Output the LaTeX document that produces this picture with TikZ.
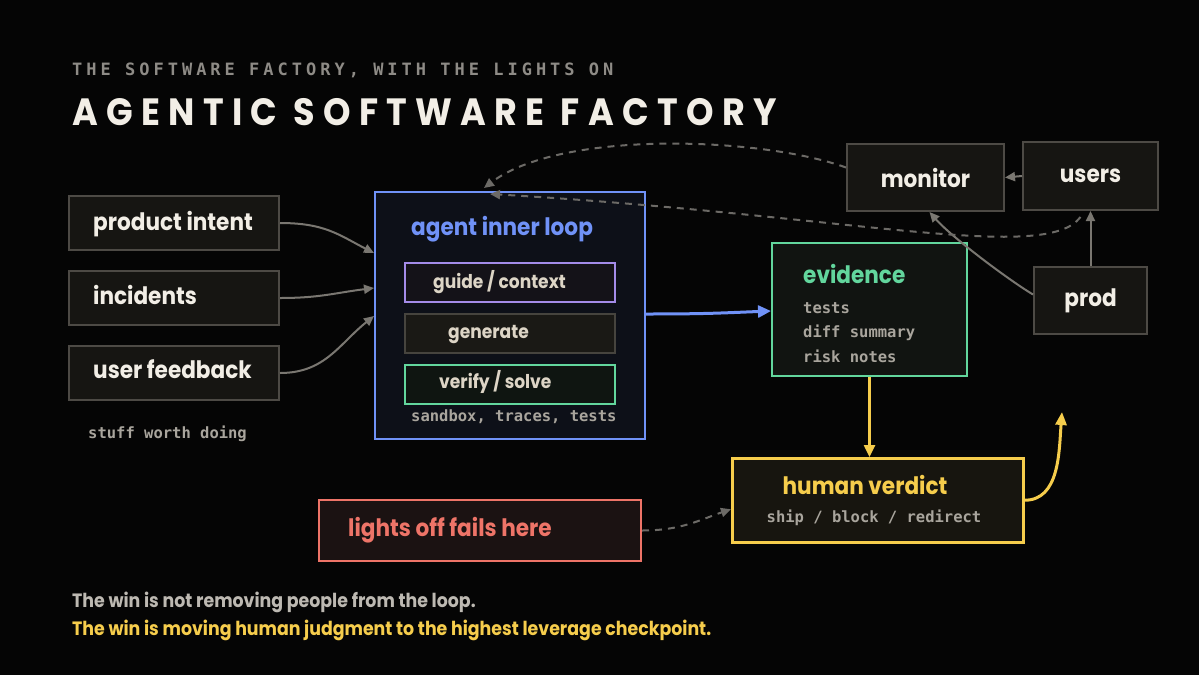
\documentclass[tikz,border=0pt]{standalone}
\usepackage{fontspec}
\setmainfont{Poppins}[FakeStretch=0.9]
\newfontfamily\monofont{DejaVu Sans Mono}
\newfontfamily\kickerfont{DejaVu Sans Mono}[LetterSpace=23.5]
\newfontfamily\titlefont{Poppins}[LetterSpace=22,FakeStretch=0.92]
\usetikzlibrary{arrows.meta,positioning,calc}

\definecolor{bg}{HTML}{050505}
\definecolor{boxfill}{HTML}{161512}
\definecolor{boxline}{HTML}{4D4A45}
\definecolor{light}{HTML}{F2EEE6}
\definecolor{beige}{HTML}{DDD5C6}
\definecolor{monogray}{HTML}{A9A59D}
\definecolor{kicker}{HTML}{8E8B86}
\definecolor{linkgray}{HTML}{7A7771}
\definecolor{dashgray}{HTML}{6C6A66}
\definecolor{loopblue}{HTML}{7092F7}
\definecolor{loopfill}{HTML}{0D1018}
\definecolor{guidepurple}{HTML}{A38BE8}
\definecolor{guidefill}{HTML}{141218}
\definecolor{genline}{HTML}{46443E}
\definecolor{genfill}{HTML}{1A1915}
\definecolor{okgreen}{HTML}{62D69D}
\definecolor{okfill}{HTML}{0F1511}
\definecolor{evfill}{HTML}{111411}
\definecolor{verdict}{HTML}{F6CD4C}
\definecolor{verdictfill}{HTML}{17150F}
\definecolor{salmon}{HTML}{EE7468}
\definecolor{salmonfill}{HTML}{1B1212}
\definecolor{note}{HTML}{BDB9B2}

\begin{document}
\begin{tikzpicture}[x=1pt,y=-1pt,
  box/.style={draw=boxline, fill=boxfill, line width=2pt, inner sep=0pt, anchor=north west},
  inbox/.style={box, minimum width=210pt, minimum height=54pt},
  stepbox/.style={box, minimum width=210pt, minimum height=39pt},
  boxtext/.style={anchor=base west, inner sep=0pt, text=light, font=\bfseries\fontsize{24}{28}\selectfont},
  steptext/.style={boxtext, text=beige, font=\bfseries\fontsize{19}{22}\selectfont},
  monotext/.style={anchor=base west, inner sep=0pt, text=monogray, font=\monofont\bfseries\fontsize{15.5}{18}\selectfont},
  link/.style={draw=linkgray, line width=2pt, -{Triangle[length=10pt,width=9pt]}},
  backlink/.style={link, draw=dashgray, dash pattern=on 7pt off 6pt},
  ]
  \fill[bg] (0,0) rectangle (1199,675);
  \useasboundingbox (0,0) rectangle (1199,675);

  % heading
  \node[anchor=base west, inner sep=0pt, text=kicker, font=\kickerfont\bfseries\fontsize{17}{20}\selectfont] (kick) at (72,75) {THE SOFTWARE FACTORY, WITH THE LIGHTS ON};
  \node[anchor=base west, inner sep=0pt, text=light, font=\titlefont\bfseries\fontsize{38}{44}\selectfont] (title) at (72,125) {AGENTIC SOFTWARE FACTORY};

  % inputs
  \node[inbox] (intent) at (68,195) {};
  \node[boxtext] (intenttxt) at (93,230) {product intent};
  \node[inbox] (incid) at (68,270) {};
  \node[boxtext] (incidtxt) at (93,304) {incidents};
  \node[inbox] (feedb) at (68,345) {};
  \node[boxtext] (feedbtxt) at (93,378) {user feedback};
  \node[monotext] (worth) at (88,438) {stuff worth doing};

  % agent inner loop
  \node[box, draw=loopblue, fill=loopfill, minimum width=270pt, minimum height=247pt] (agent) at (374,191) {};
  \node[boxtext, text=loopblue] (agenttxt) at (411,235) {agent inner loop};
  \node[stepbox, draw=guidepurple, fill=guidefill] (guide) at (404,262) {};
  \node[steptext] (guidetxt) at (433,288) {guide / context};
  \node[stepbox, draw=genline, fill=genfill] (gen) at (404,313) {};
  \node[steptext] (gentxt) at (448,338) {generate};
  \node[stepbox, draw=okgreen, fill=okfill] (verify) at (404,364) {};
  \node[steptext] (verifytxt) at (439,388) {verify / solve};
  \node[monotext] (sandbox) at (411,421) {sandbox, traces, tests};

  % evidence
  \node[box, draw=okgreen, fill=evfill, minimum width=195pt, minimum height=133pt] (evidence) at (771,242) {};
  \node[boxtext, text=okgreen] (evtxt) at (803,283) {evidence};
  \node[monotext] (ev1) at (803,313) {tests};
  \node[monotext] (ev2) at (803,337) {diff summary};
  \node[monotext] (ev3) at (803,362) {risk notes};

  % production side
  \node[box, minimum width=157pt, minimum height=67pt, text=light, font=\bfseries\fontsize{24}{28}\selectfont] (monitor) at (846,143) {monitor};
  \node[box, minimum width=135pt, minimum height=68pt, text=light, font=\bfseries\fontsize{24}{28}\selectfont] (users) at (1022,141) {users};
  \node[box, minimum width=113pt, minimum height=67pt, text=light, font=\bfseries\fontsize{24}{28}\selectfont] (prod) at (1033,266) {prod};

  % verdict
  \node[box, draw=verdict, fill=verdictfill, minimum width=291pt, minimum height=84pt, line width=2.5pt] (verdict) at (731,457) {};
  \node[boxtext, text=verdict, anchor=base] (verdicttxt) at (865,494) {human verdict};
  \node[monotext, anchor=base] (verdictsub) at (874,522) {ship / block / redirect};
  \coordinate (ship) at (1062,412);

  \node[box, draw=salmon, fill=salmonfill, minimum width=322pt, minimum height=61pt] (lights) at (318,499) {};
  \node[boxtext, text=salmon] (lightstxt) at (348,536) {lights off fails here};

  % takeaway
  \node[anchor=base west, inner sep=0pt, text=note, font=\bfseries\fontsize{19.3}{22}\selectfont] (take1) at (72,607) {The win is not removing people from the loop.};
  \node[anchor=base west, inner sep=0pt, text=verdict, font=\bfseries\fontsize{19.3}{22}\selectfont] (take2) at (72,635) {The win is moving human judgment to the highest leverage checkpoint.};

  % connectors
  \draw[link] (intent.east) .. controls +(45,0) and +(-35,-18) .. ($(agent.north west)+(0,62)$);
  \draw[link] (incid.east) .. controls +(40,0) and +(-40,5) .. ($(agent.north west)+(0,97)$);
  \draw[link] (feedb.east) .. controls +(45,0) and +(-35,28) .. ($(agent.north west)+(0,125)$);
  \draw[link, draw=loopblue, line width=3pt, -{Triangle[length=13pt,width=12pt]}] ($(agent.north east)+(0,123)$) .. controls +(60,0) and +(-50,2) .. ($(evidence.north west)+(0,69)$);
  \draw[link, draw=verdict, line width=2.5pt, -{Triangle[length=12pt,width=11pt]}] (evidence.south) -- (evidence.south |- verdict.north);
  \draw[link, draw=verdict, line width=3pt, -{Triangle[length=13pt,width=11pt]}] (verdict.east) .. controls +(35,0) and +(-3,40) .. (ship);
  \draw[backlink] (lights.east) .. controls +(40,0) and +(-30,10) .. ($(verdict.west)+(0,9)$);
  \draw[link] (prod.north) -- (prod.north |- users.south);
  \draw[link] (users.west) -- (monitor.east);
  \draw[link] ($(prod.west)+(0,-6)$) .. controls +(-25,-15) and +(22,25) .. ($(monitor.south)+(4,0)$);
  \draw[backlink] ($(monitor.west)+(0,-10)$) .. controls +(-86,-31) and +(76,-58) .. ($(agent.north west)+(110,-3)$);
  \draw[backlink] ($(users.south)+(-10,6)$) .. controls +(-35,47) and +(360,21) .. ($(agent.north west)+(116,3)$);
\end{tikzpicture}
\end{document}
